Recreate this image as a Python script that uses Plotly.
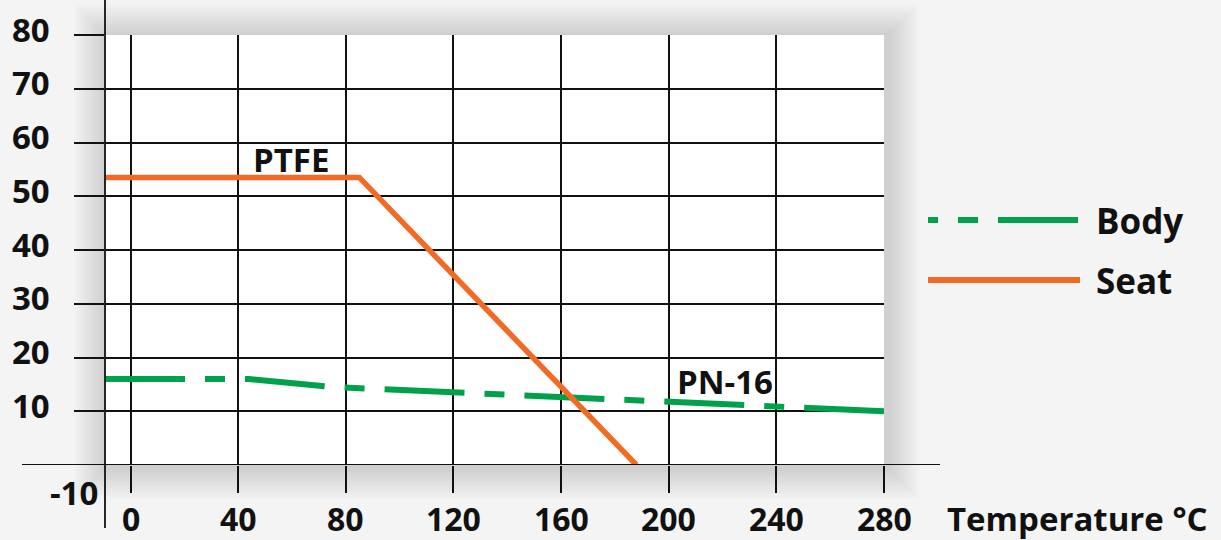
import plotly.graph_objects as go

# ---- data ----
body_x = [-9.5, 44, 75, 280]
body_y = [16.0, 16.0, 14.5, 10.0]
seat_x = [-9.5, 85, 188]
seat_y = [53.5, 53.5, 0.0]
x_ticks = [0, 40, 80, 120, 160, 200, 240, 280]
x_tick_labels = ["0", "40", "80", "120", "160", "200", "240", "280"]
y_ticks = [10, 20, 30, 40, 50, 60, 70, 80]
y_tick_labels = ["10", "20", "30", "40", "50", "60", "70", "80"]
series_names = ["Body", "Seat"]
labels_text = ["PTFE", "PN-16"]
labels_x = [59.8, 221.0]
labels_y = [56.9, 15.6]

GREEN = "#00A14B"
ORANGE = "#F26A24"
INK = "#111111"
FONT = "Open Sans"
BG = "#f4f4f4"

W, H = 1221, 540
ML, MR, MT, MB = 105, 337, 35, 75
PW, PH = W - ML - MR, H - MT - MB


def px2x(px):
    return (px - ML) / PW


def px2y(py):
    return (H - MB - py) / PH


def f(size):
    return dict(family=FONT, size=size, color=INK, weight=700)


fig = go.Figure()
fig.add_trace(go.Scatter(x=body_x, y=body_y, mode="lines", name=series_names[0],
                         line=dict(color=GREEN, width=6, dash="80px,20px,20px,20px"),
                         showlegend=False, hoverinfo="skip"))
fig.add_trace(go.Scatter(x=seat_x, y=seat_y, mode="lines", name=series_names[1],
                         line=dict(color=ORANGE, width=5.5),
                         showlegend=False, hoverinfo="skip"))

shapes = []
# soft shadow around the plot panel
n = 12
for i in range(n, 0, -1):
    d = i * 2.6
    shapes.append(dict(type="rect", xref="paper", yref="paper", layer="below",
                       x0=-d / PW, x1=1 + (d + 4) / PW, y0=-(d + 3) / PH, y1=1 + d / PH,
                       line=dict(width=0), fillcolor="rgba(0,0,0,0.011)"))
# white panel
shapes.append(dict(type="rect", xref="paper", yref="paper", layer="below",
                   x0=0, x1=1, y0=0, y1=1, line=dict(width=0), fillcolor="white"))
# extended zero line
shapes.append(dict(type="line", xref="paper", yref="y", x0=px2x(22), x1=px2x(940), y0=0, y1=0,
                   line=dict(color=INK, width=1.8), layer="above"))
# extended y axis line
shapes.append(dict(type="line", xref="paper", yref="paper", x0=0, x1=0, y0=px2y(528), y1=px2y(0),
                   line=dict(color=INK, width=1.8), layer="above"))
# legend lines
shapes.append(dict(type="line", xref="paper", yref="paper", x0=px2x(928), x1=px2x(1080),
                   y0=px2y(220), y1=px2y(220),
                   line=dict(color=GREEN, width=6, dash="10px,20px,20px,20px,80px,20px")))
shapes.append(dict(type="line", xref="paper", yref="paper", x0=px2x(928), x1=px2x(1080),
                   y0=px2y(280), y1=px2y(280),
                   line=dict(color=ORANGE, width=6)))

ann = []
for v, t in zip(y_ticks, y_tick_labels):
    ann.append(dict(x=px2x(31), y=v, xref="paper", yref="y", text=t, showarrow=False,
                    xanchor="center", yanchor="middle", yshift=6, font=f(33)))
for v, t in zip(x_ticks, x_tick_labels):
    ann.append(dict(x=v, y=px2y(518), xref="x", yref="paper", text=t, showarrow=False,
                    xanchor="center", yanchor="middle", borderpad=0, font=f(32)))
ann.append(dict(x=px2x(74), y=px2y(492), xref="paper", yref="paper", text="-10", showarrow=False,
                xanchor="center", yanchor="middle", font=f(33)))
ann.append(dict(x=px2x(1077), y=px2y(518), xref="paper", yref="paper", text="Temperature °C",
                showarrow=False, xanchor="center", yanchor="middle", borderpad=0, font=f(33)))
for t, x, y in zip(labels_text, labels_x, labels_y):
    ann.append(dict(x=x, y=y, xref="x", yref="y", text=t, showarrow=False,
                    xanchor="center", yanchor="middle", font=f(33)))
for name, py in zip(series_names, [220, 280]):
    ann.append(dict(x=px2x(1094), y=px2y(py), xref="paper", yref="paper", text=name,
                    showarrow=False, xanchor="left", yanchor="middle", font=f(35)))

fig.update_layout(
    width=W, height=H,
    margin=dict(l=ML, r=MR, t=MT, b=MB, pad=0, autoexpand=False),
    paper_bgcolor=BG, plot_bgcolor="rgba(0,0,0,0)",
    showlegend=False,
    shapes=shapes, annotations=ann,
    xaxis=dict(range=[-9.5, 280], tickvals=x_ticks, automargin=False,
               showgrid=True, gridcolor=INK, gridwidth=1.8, zeroline=False, showline=False,
               ticks="outside", ticklen=27, tickwidth=1.8, tickcolor=INK,
               showticklabels=False),
    yaxis=dict(range=[0, 80], tickvals=y_ticks, automargin=False,
               showgrid=True, gridcolor=INK, gridwidth=1.8, zeroline=False, showline=False,
               ticks="outside", ticklen=30, tickwidth=1.8, tickcolor=INK,
               showticklabels=False),
)

fig.write_html("out.html", config={"displayModeBar": False},
               post_script="document.body.style.margin='0';document.body.style.background='%s';" % BG)
